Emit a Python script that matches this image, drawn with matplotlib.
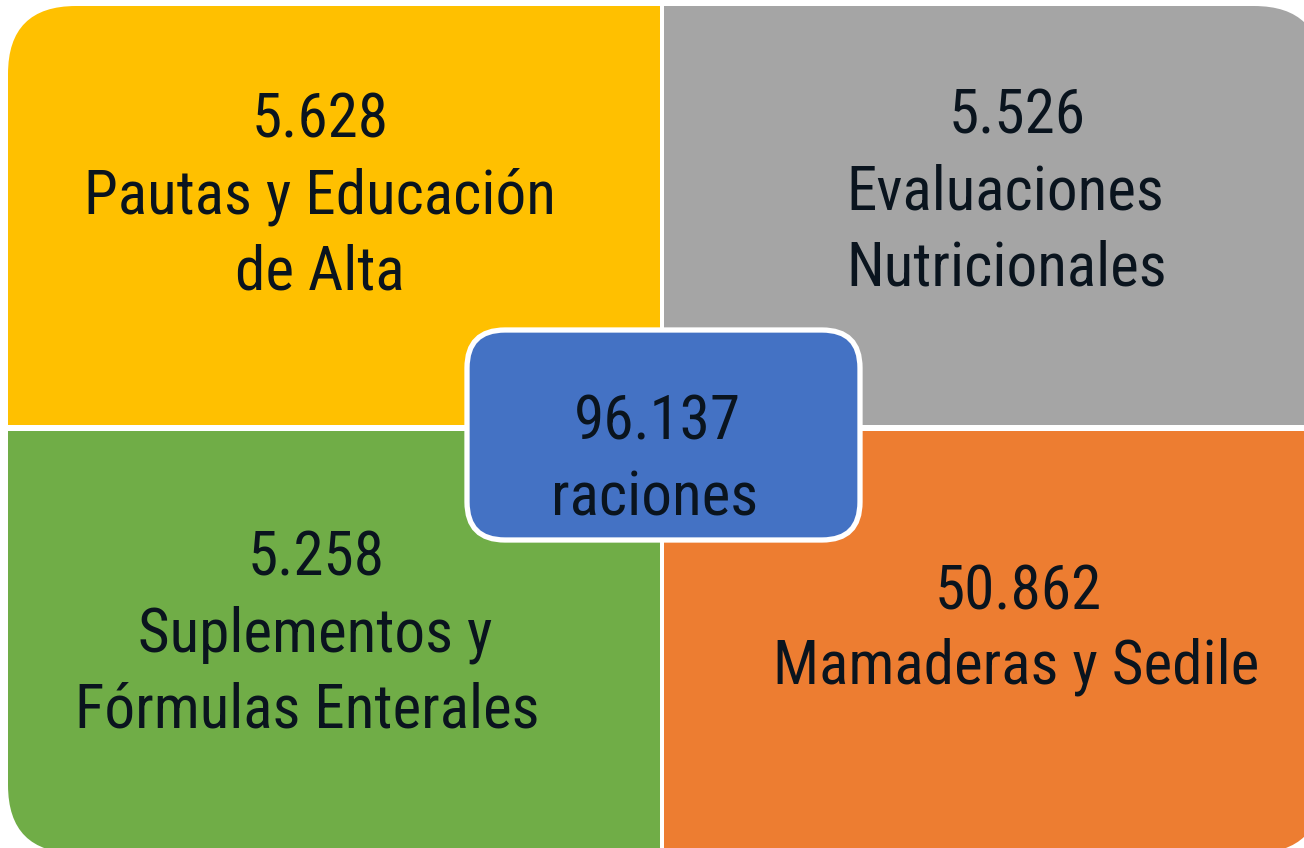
import matplotlib
matplotlib.use("Agg")
import matplotlib.pyplot as plt
from matplotlib.patches import FancyBboxPatch, Rectangle

# ---- data ----
values = ["5.628", "5.526", "5.258", "50.862"]
labels = [
    ["Pautas y Educación", "de Alta"],
    ["Evaluaciones", "Nutricionales"],
    ["Suplementos y", "Fórmulas Enterales"],
    ["Mamaderas y Sedile"],
]
total_value = "96.137"
total_label = "raciones"

colors = ["#FFC000", "#A5A5A5", "#70AD47", "#ED7D31"]
center_color = "#4472C4"
text_color = "#0A141E"

plt.rcParams['font.family'] = ['Roboto Condensed', 'Archivo Narrow', 'Barlow Condensed', 'DejaVu Sans']

W, H = 1304, 848
fig = plt.figure(figsize=(W / 100, H / 100), dpi=100)
ax = fig.add_axes([0, 0, 1, 1])
ax.set_xlim(0, W)
ax.set_ylim(H, 0)
ax.axis('off')

# outer rounded clip shape
outer = FancyBboxPatch((8, 6), 1314, 847, boxstyle="round,pad=0,rounding_size=68",
                       facecolor='none', edgecolor='none', transform=ax.transData)
ax.add_patch(outer)

# quadrant rectangles (x0, y0, x1, y1)
quads = [(8, 6, 659.5, 424.5), (664, 6, 1330, 424.5),
         (8, 430.5, 659.5, 860), (664, 430.5, 1330, 860)]
for (x0, y0, x1, y1), c in zip(quads, colors):
    r = Rectangle((x0, y0), x1 - x0, y1 - y0, facecolor=c, edgecolor='none')
    ax.add_patch(r)
    r.set_clip_path(outer)

# center box
cb = FancyBboxPatch((467, 330), 393, 210, boxstyle="round,pad=0,rounding_size=38",
                    facecolor=center_color, edgecolor='white', linewidth=3.8)
ax.add_patch(cb)

fs = 44
# first baseline per quadrant, line step, center x per line
baselines = [137, 133, 576, 610]
steps = [76, 76, 76, 73]
xoffs = [[320, 320, 320], [1017, 1005, 1007], [316, 315, 307], [1018, 1016]]
for i, (val, lab) in enumerate(zip(values, labels)):
    lines = [val] + lab
    for j, line in enumerate(lines):
        ax.text(xoffs[i][j], baselines[i] + j * steps[i], line, ha='center',
                va='baseline', fontsize=fs, color=text_color)

ax.text(657, 440, total_value, ha='center', va='baseline', fontsize=fs, color=text_color)
ax.text(655, 515, total_label, ha='center', va='baseline', fontsize=fs, color=text_color)

fig.savefig("out.png", dpi=100)
